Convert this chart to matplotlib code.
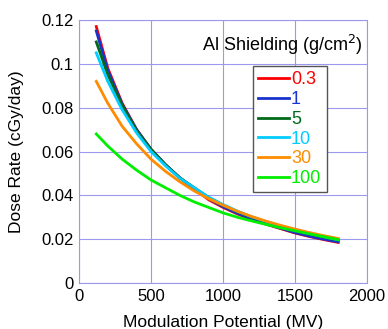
import matplotlib.pyplot as plt

plt.rcParams['font.family'] = ['Liberation Sans', 'DejaVu Sans']

potential = [120, 200, 300, 400, 500, 600, 700, 800, 900, 1000,
             1100, 1200, 1300, 1400, 1500, 1600, 1700, 1800]

dose_03 = [0.117, 0.098, 0.082, 0.070, 0.061, 0.054, 0.048, 0.043, 0.038, 0.0345,
           0.0315, 0.029, 0.0268, 0.0248, 0.0228, 0.0212, 0.0198, 0.0185]
dose_1 = [0.115, 0.097, 0.0815, 0.070, 0.061, 0.054, 0.048, 0.043, 0.0385, 0.0348,
          0.0318, 0.0292, 0.027, 0.025, 0.023, 0.0214, 0.020, 0.0188]
dose_5 = [0.110, 0.095, 0.081, 0.0695, 0.061, 0.054, 0.048, 0.0435, 0.039, 0.0355,
          0.0325, 0.030, 0.0278, 0.0258, 0.024, 0.0224, 0.021, 0.0196]
dose_10 = [0.105, 0.092, 0.079, 0.0685, 0.060, 0.0535, 0.0478, 0.0435, 0.0392, 0.0358,
           0.0328, 0.0302, 0.028, 0.026, 0.0242, 0.0226, 0.0211, 0.0197]
dose_30 = [0.092, 0.082, 0.0715, 0.0635, 0.0565, 0.051, 0.0462, 0.042, 0.0385, 0.0355,
           0.0327, 0.0303, 0.0282, 0.0263, 0.0246, 0.023, 0.0216, 0.0203]
dose_100 = [0.068, 0.0625, 0.0565, 0.0515, 0.047, 0.0435, 0.040, 0.037, 0.0345, 0.032,
            0.030, 0.0283, 0.0267, 0.0252, 0.0238, 0.0224, 0.0211, 0.0198]

series = [('0.3', dose_03, '#ff0000'), ('1', dose_1, '#1a33cc'), ('5', dose_5, '#006a1a'),
          ('10', dose_10, '#00ccff'), ('30', dose_30, '#ff8c00'), ('100', dose_100, '#00ee00')]

fig = plt.figure(figsize=(3.88, 3.29), dpi=100)
ax = fig.add_axes([79 / 388, 1 - 283 / 329, 288 / 388, 263 / 329])

for label, y, c in series:
    ax.plot(potential, y, color=c, linewidth=2, label=label)

ax.set_xlim(0, 2000)
ax.set_ylim(0, 0.12)
ax.set_xticks([0, 500, 1000, 1500, 2000])
ax.set_yticks([0, 0.02, 0.04, 0.06, 0.08, 0.1, 0.12])
ax.set_yticklabels(['0', '0.02', '0.04', '0.06', '0.08', '0.1', '0.12'])
ax.grid(True, color='#9999ee', linewidth=0.8)
for s in ax.spines.values():
    s.set_color('#9999ee')
ax.tick_params(length=0, labelsize=12, pad=4)

ax.set_xlabel('Modulation Potential (MV)', fontsize=12.5, labelpad=8)
ax.set_ylabel('Dose Rate (cGy/day)', fontsize=12.5, labelpad=12)

ax.text(0.985, 0.905, 'Al Shielding (g/cm$^2$)', transform=ax.transAxes,
        ha='right', va='center', fontsize=13)

leg = ax.legend(loc='upper left', bbox_to_anchor=(174 / 288, 1 - 46 / 263),
                fontsize=13, handlelength=1.7, handletextpad=0.1, labelspacing=0.15,
                borderpad=0.3, fancybox=False, framealpha=1, borderaxespad=0)
leg.get_frame().set_edgecolor('#555555')
for t, (_, _, c) in zip(leg.get_texts(), series):
    t.set_color(c)

fig.savefig('out.png', dpi=100)
